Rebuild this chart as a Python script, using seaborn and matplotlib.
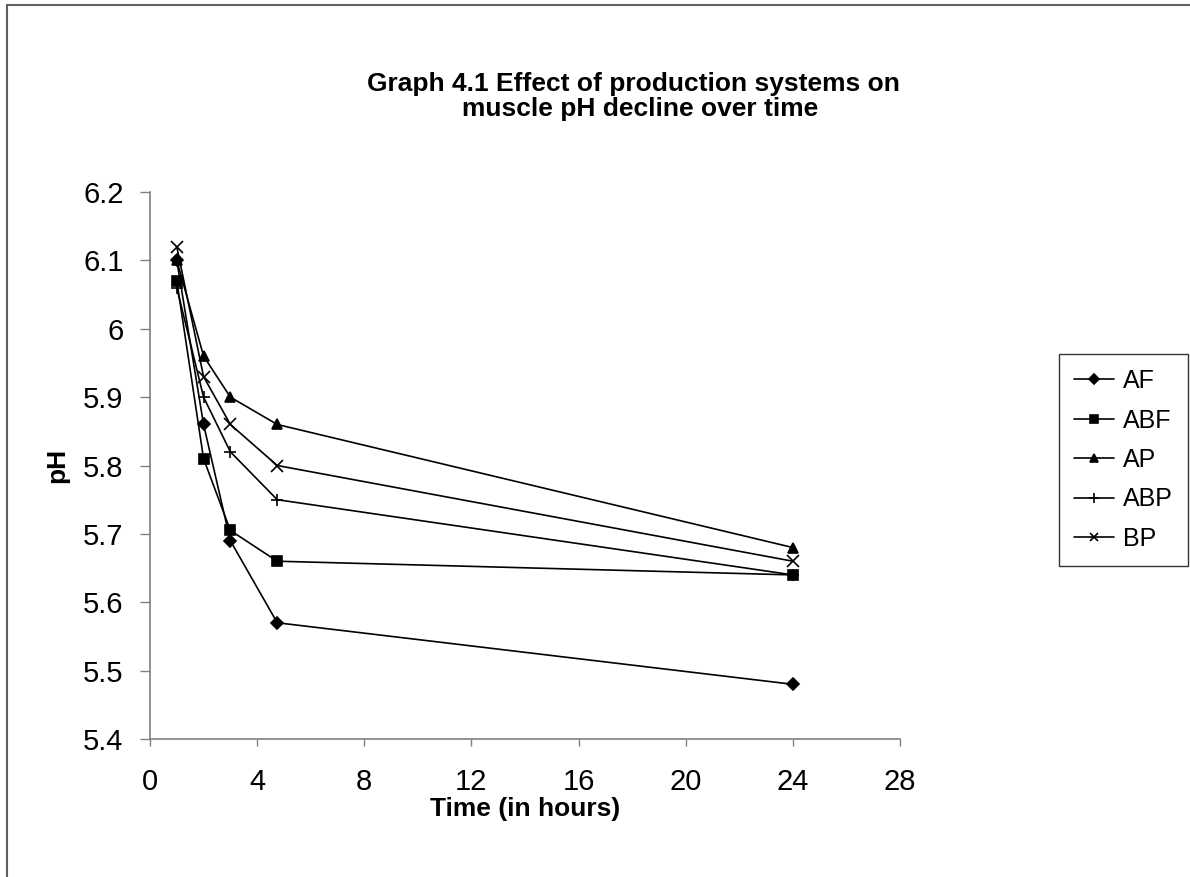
import matplotlib
matplotlib.use("Agg")
import matplotlib.pyplot as plt
import seaborn as sns
import pandas as pd
from matplotlib.patches import Rectangle

# ---- data ----
time_hours = [1, 2, 3, 4.75, 24]
series_names = ["AF", "ABF", "AP", "ABP", "BP"]
af = [6.10, 5.86, 5.69, 5.57, 5.48]
abf = [6.07, 5.81, 5.705, 5.66, 5.64]
ap = [6.10, 5.96, 5.90, 5.86, 5.68]
abp = [6.06, 5.90, 5.82, 5.75, 5.64]
bp = [6.12, 5.93, 5.86, 5.80, 5.66]
x_ticks = [0, 4, 8, 12, 16, 20, 24, 28]
y_ticks = [5.4, 5.5, 5.6, 5.7, 5.8, 5.9, 6.0, 6.1, 6.2]
y_tick_labels = ["5.4", "5.5", "5.6", "5.7", "5.8", "5.9", "6", "6.1", "6.2"]

values = {"AF": af, "ABF": abf, "AP": ap, "ABP": abp, "BP": bp}
rows = []
for name in series_names:
    for t, v in zip(time_hours, values[name]):
        rows.append({"Time": t, "pH": v, "Series": name})
df = pd.DataFrame(rows)

sns.set_style("white")
plt.rcParams["font.family"] = ["Liberation Sans", "DejaVu Sans"]
plt.rcParams["text.color"] = "black"
plt.rcParams["axes.labelcolor"] = "black"
plt.rcParams["xtick.color"] = "black"
plt.rcParams["ytick.color"] = "black"

fig = plt.figure(figsize=(11.9, 8.77), dpi=100)
ax = fig.add_axes([150 / 1190, 1 - 739 / 877, 750 / 1190, 547 / 877])

markers = {"AF": "D", "ABF": "s", "AP": "^", "ABP": "+", "BP": "x"}
sizes = {"AF": 6, "ABF": 7, "AP": 7.5, "ABP": 9, "BP": 8}
for name in series_names:
    sub = df[df["Series"] == name]
    sns.lineplot(data=sub, x="Time", y="pH", ax=ax, color="black",
                 marker=markers[name], markersize=sizes[name],
                 markeredgecolor="black", markerfacecolor="black",
                 markeredgewidth=1.2, linewidth=1.2, label=name,
                 legend=False)

ax.set_xlim(0, 28)
ax.set_ylim(5.4, 6.2)
ax.set_xticks(x_ticks)
ax.set_xticklabels([str(t) for t in x_ticks])
ax.set_yticks(y_ticks)
ax.set_yticklabels(y_tick_labels)

for side in ["top", "right"]:
    ax.spines[side].set_visible(False)
for side in ["left", "bottom"]:
    ax.spines[side].set_color("#808080")
    ax.spines[side].set_linewidth(1.2)

ax.tick_params(axis="y", direction="out", length=7, width=1, color="#808080",
               labelcolor="black", labelsize=21, pad=12, left=True)
ax.tick_params(axis="x", direction="out", length=5, width=1, color="#808080",
               labelcolor="black", labelsize=21, pad=16, bottom=True)

ax.set_xlabel("Time (in hours)", fontsize=19, fontweight="bold", color="black")
ax.set_ylabel("pH", fontsize=19, fontweight="bold", color="black")
ax.xaxis.set_label_coords(0.5, -(809 - 739) / 547, transform=ax.transAxes)
ax.xaxis.label.set_va("center")
ax.yaxis.set_label_coords(-(150 - 57) / 750, 0.5)
ax.yaxis.label.set_va("center")

fig.text(633 / 1190, 1 - 84 / 877, "Graph 4.1 Effect of production systems on",
         ha="center", va="center", fontsize=19, fontweight="bold")
fig.text(640 / 1190, 1 - 109 / 877, "muscle pH decline over time",
         ha="center", va="center", fontsize=19, fontweight="bold")

handles, labels = ax.get_legend_handles_labels()
leg = fig.legend(handles, labels, loc="upper left",
                 bbox_to_anchor=(1059 / 1190, 1 - 354 / 877),
                 fontsize=18, frameon=True, fancybox=False, edgecolor="black",
                 handlelength=1.6, labelspacing=0.62, borderpad=0.6,
                 handletextpad=0.35, borderaxespad=0, markerscale=0.8)
leg.get_frame().set_linewidth(1.0)

# figure border (left and top edges visible)
fig.patches.append(Rectangle((7 / 1190, -0.05), 1.2, 1 - 5 / 877 + 0.05,
                             transform=fig.transFigure, fill=False,
                             edgecolor="#606060", linewidth=1.5))

fig.savefig("out.png", dpi=100)
